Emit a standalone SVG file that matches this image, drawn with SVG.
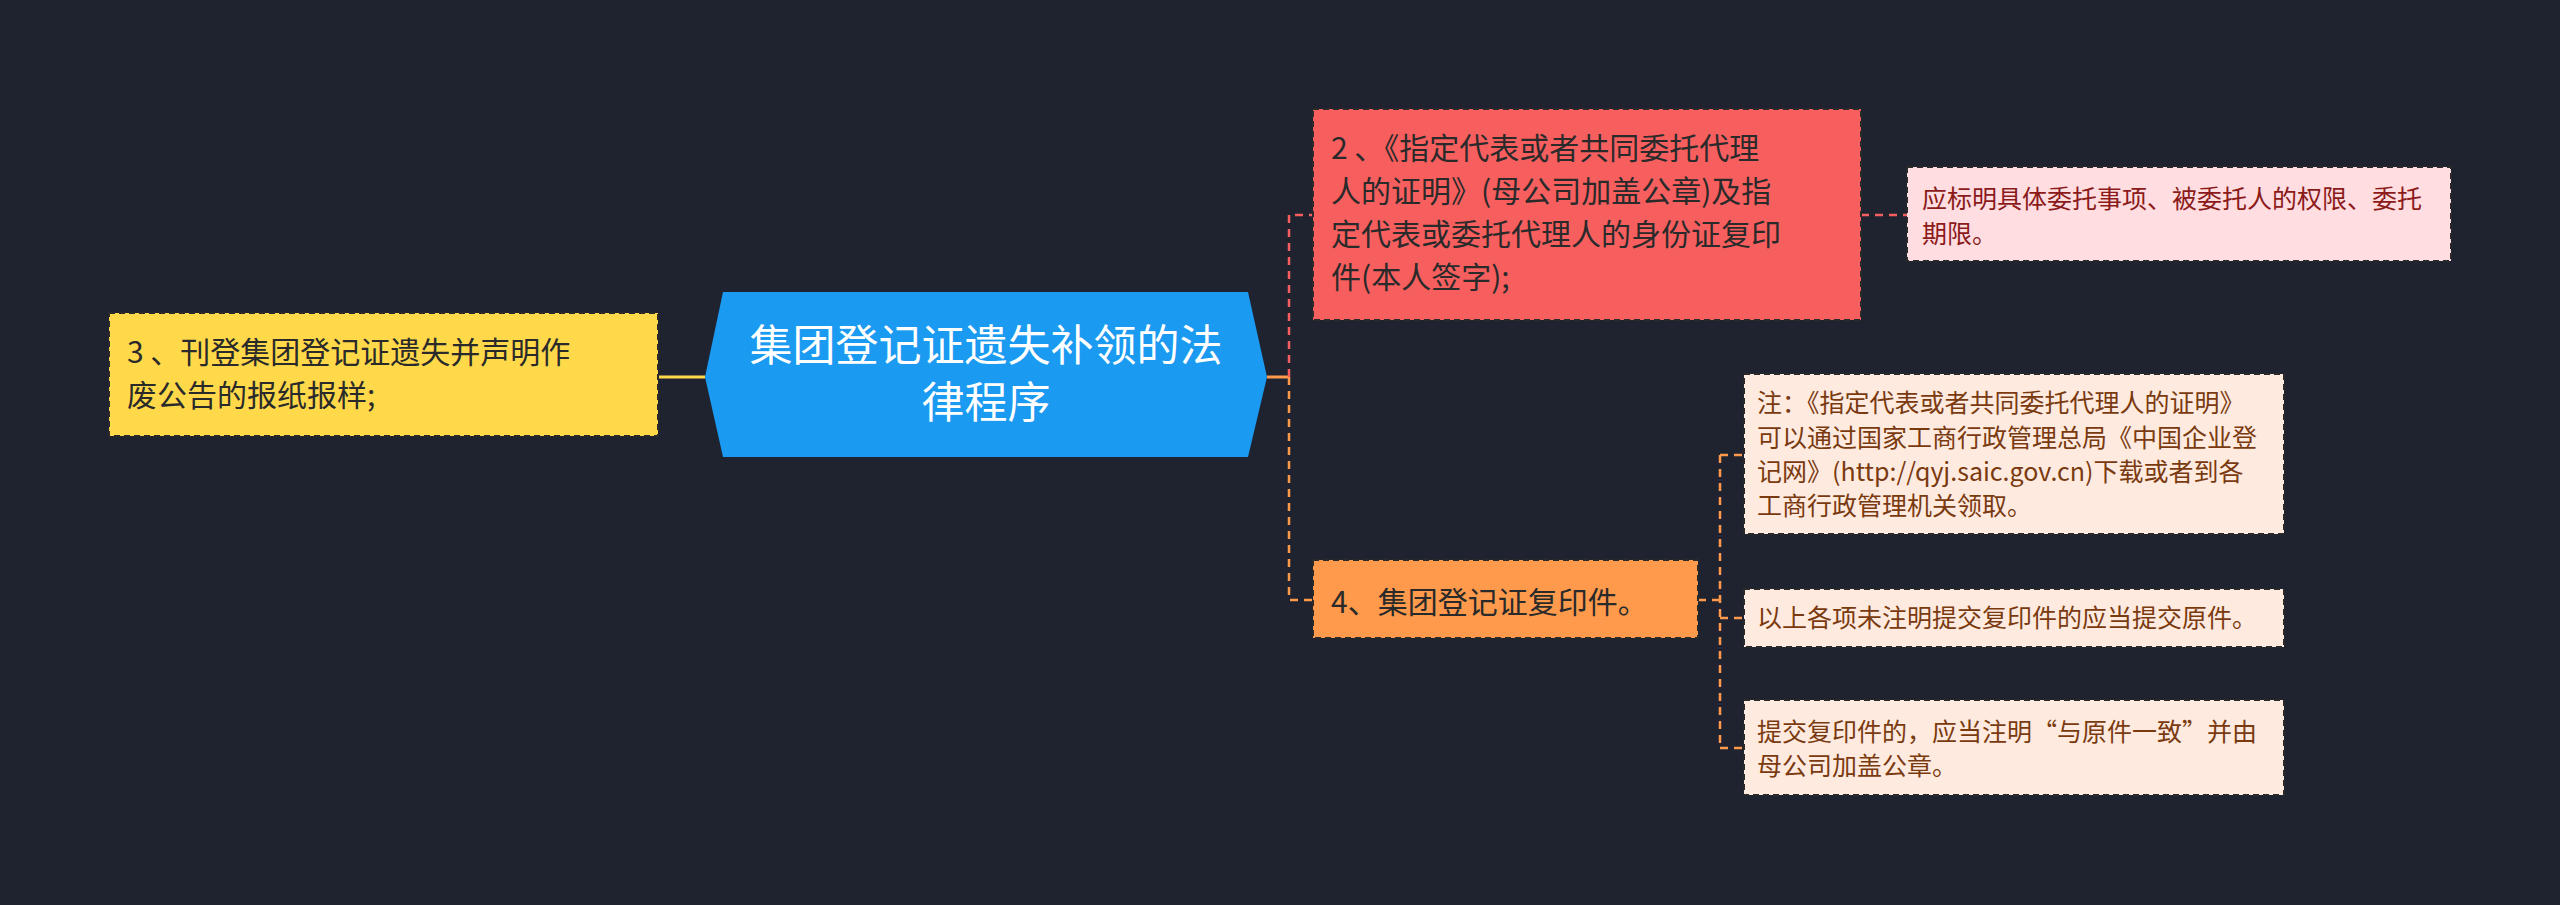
<svg xmlns="http://www.w3.org/2000/svg" width="2560" height="905" viewBox="0 0 2560 905">
<style>
text{font-family:"Noto Sans CJK SC","Liberation Sans",sans-serif}
.m{font-size:30px;fill:#2a2a2a}
.c{font-size:43px;fill:#fff}
.n{font-size:25px}
.box{stroke:#2a2a2a;stroke-width:2;stroke-dasharray:6 4}
.ln{fill:none;stroke-width:2.5;stroke-dasharray:8 6}
</style>
<rect width="2560" height="905" fill="#1f2330"/>
<g id="connectors">
<line x1="658" y1="377" x2="705" y2="377" stroke="#ffd94a" stroke-width="3"/>
<line x1="1267" y1="377" x2="1289" y2="377" stroke="#ff9a4d" stroke-width="3"/>
<path class="ln" stroke="#f75f5f" d="M1289 377 V215 H1313"/>
<path class="ln" stroke="#ff9a4d" d="M1289 377 V600 H1313"/>
<path class="ln" stroke="#f75f5f" d="M1861 215 H1907"/>
<path class="ln" stroke="#ff9a4d" d="M1698 600 H1720 M1720 455 V748 M1720 455 H1744 M1720 618 H1744 M1720 748 H1744"/>
</g>
<g id="center">
<polygon points="723,292 1248,292 1267,377 1248,457 723,457 705,377" fill="#1a9af0"/>
<text class="c" x="986" y="361" text-anchor="middle">集团登记证遗失补领的法</text>
<text class="c" x="986" y="418" text-anchor="middle">律程序</text>
</g>
<g id="n3">
<rect class="box" x="109" y="313" width="549" height="123" fill="#ffd94a"/>
<text class="m" x="127" y="363">3 、刊登集团登记证遗失并声明作</text>
<text class="m" x="127" y="406">废公告的报纸报样;</text>
</g>
<g id="n2">
<rect class="box" x="1313" y="109" width="548" height="211" fill="#f75f5f"/>
<text class="m" x="1331" y="159">2 、《指定代表或者共同委托代理</text>
<text class="m" x="1331" y="202">人的证明》(母公司加盖公章)及指</text>
<text class="m" x="1331" y="245">定代表或委托代理人的身份证复印</text>
<text class="m" x="1331" y="288">件(本人签字);</text>
</g>
<g id="n2a">
<rect class="box" x="1907" y="167" width="544" height="94" fill="#ffdde0"/>
<text class="n" x="1922" y="208" fill="#8b1a1a">应标明具体委托事项、被委托人的权限、委托</text>
<text class="n" x="1922" y="243" fill="#8b1a1a">期限。</text>
</g>
<g id="n4">
<rect class="box" x="1313" y="560" width="385" height="78" fill="#ff9a4d"/>
<text class="m" x="1331" y="613">4、集团登记证复印件。</text>
</g>
<g id="n4a">
<rect class="box" x="1744" y="374" width="540" height="160" fill="#ffeadf"/>
<text class="n" x="1757" y="412" fill="#7a3a10">注：《指定代表或者共同委托代理人的证明》</text>
<text class="n" x="1757" y="447" fill="#7a3a10">可以通过国家工商行政管理总局《中国企业登</text>
<text class="n" x="1757" y="481" fill="#7a3a10">记网》(http://qyj.saic.gov.cn)下载或者到各</text>
<text class="n" x="1757" y="515" fill="#7a3a10">工商行政管理机关领取。</text>
</g>
<g id="n4b">
<rect class="box" x="1744" y="589" width="540" height="58" fill="#ffeadf"/>
<text class="n" x="1757" y="627" fill="#7a3a10">以上各项未注明提交复印件的应当提交原件。</text>
</g>
<g id="n4c">
<rect class="box" x="1744" y="700" width="540" height="95" fill="#ffeadf"/>
<text class="n" x="1757" y="741" fill="#7a3a10">提交复印件的，应当注明“与原件一致”并由</text>
<text class="n" x="1757" y="775" fill="#7a3a10">母公司加盖公章。</text>
</g>
</svg>
